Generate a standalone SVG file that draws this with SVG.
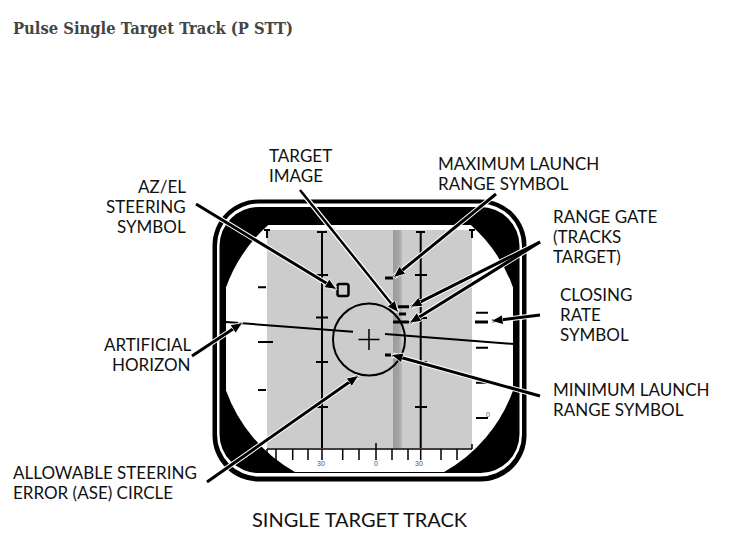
<svg xmlns="http://www.w3.org/2000/svg" width="731" height="548" viewBox="0 0 731 548">
<style>
text{font-family:"Lato","Noto Sans",sans-serif;font-size:17px;fill:#111}
.t{font-family:"DejaVu Serif","Liberation Serif",serif;font-weight:bold;font-size:16px;fill:#444}
.cap{font-size:20px}
.s{font-family:"Liberation Sans",sans-serif;font-size:7px;fill:#555;text-anchor:middle}
.k{stroke:#000;fill:none}
.halo{stroke:#fff;stroke-width:5;fill:none}
.ld{stroke:#000;stroke-width:3;fill:none;marker-end:url(#a)}
</style>
<defs>
<marker id="a" markerUnits="userSpaceOnUse" markerWidth="13" markerHeight="11" refX="11" refY="5" orient="auto"><path d="M0 0L12 5L0 10Z" fill="#000" stroke="#fff" stroke-width=".8"/></marker>
<linearGradient id="band"><stop offset="0" stop-color="#9c9c9c"/><stop offset=".6" stop-color="#a2a2a2"/><stop offset="1" stop-color="#bcbcbc"/></linearGradient>
</defs>
<rect width="731" height="548" fill="#fff"/>
<text class="t" x="13" y="34" textLength="280" lengthAdjust="spacingAndGlyphs">Pulse Single Target Track (P STT)</text>
<g id="display">
<rect x="212.500" y="199.500" width="314" height="282" rx="46" fill="#000"/>
<rect x="217" y="203.500" width="305" height="273" rx="42" fill="#fff"/>
<rect x="219.500" y="207" width="300" height="266" rx="39" fill="#000"/>
<path d="M226 287.400A152.500 152.500 0 0 1 268.200 225H470.800A152.500 152.500 0 0 1 513 287.400V390.600A152.500 152.500 0 0 1 444.100 472H294.900A152.500 152.500 0 0 1 226 390.600Z" fill="#fff"/>
<rect x="267" y="230" width="205" height="218" fill="#ccc"/>
<rect x="393" y="230" width="9" height="218" fill="url(#band)"/>
<g class="k" stroke-width="2">
<path d="M322 232V448M317 232H327M316 275H328M316 317.500H328M316 362H328M316 407H328"/>
<path d="M420.700 232V448M416 232H425M415 275H427M415 318H427M415 362H427M415 407H427"/>
<path d="M267 230V238M264 230H270M472 230V238M469 230H475"/>
<path d="M258 287.300H266M258 342H273M258 390H266"/>
<path d="M476 312.700H488M476 347.700H488M476 382.700H488M476 418H488"/>
<path stroke-width="1.500" d="M267 449H472M267 449V460M276 449V460M292.700 449V460M308 449V460M322 449V460M342.700 449V460M359 449V460M376 443V460M392 449V460M408 449V460M420.700 449V460M441 449V460M457 449V460M472 444V449"/>
<path d="M226 322L353 331.700M385 334L514 344"/>
<circle cx="369" cy="339.500" r="36"/>
<path stroke-width="1.500" d="M369 329V350M358.500 339.500H379.500"/>
<rect x="337.500" y="284" width="11" height="12" rx="2" stroke-width="2.500"/>
</g>
<g class="k" stroke-width="3">
<path d="M385 278H393M398 306.700H409M399 314H406M393 322H409M385 355H391M475 322H488"/>
</g>
<text class="s" x="321" y="466">30</text>
<text class="s" x="376" y="466">0</text>
<text class="s" x="419" y="466">30</text>
<text class="s" x="488" y="417">0</text>
</g>
<g id="connectors">
<path class="halo" d="M196 204L336 289M300 190L398 312M496 194L394 277M540 242L411 306.700M540 242L410 322.700M540 315L492 321M540 396L392 355M207 482L358 376M192 356L242 323"/>
<path class="ld" d="M196 204L336 289"/>
<path class="ld" d="M300 190L398 312" style="stroke-width:2.500"/>
<path class="ld" d="M496 194L394 277"/>
<path class="ld" d="M540 242L411 306.700"/>
<path class="ld" d="M540 242L410 322.700"/>
<path class="ld" d="M540 315L492 321"/>
<path class="ld" d="M540 396L392 355"/>
<path class="ld" d="M207 482L358 376"/>
<path class="ld" d="M192 356L242 323"/>
</g>
<g id="label-azel"><text x="138" y="193">AZ/EL</text><text x="106" y="213">STEERING</text><text x="117" y="233">SYMBOL</text></g>
<g id="label-target"><text x="269" y="162">TARGET</text><text x="269" y="182">IMAGE</text></g>
<g id="label-maxlaunch"><text x="438" y="170">MAXIMUM LAUNCH</text><text x="438" y="190">RANGE SYMBOL</text></g>
<g id="label-gate"><text x="553" y="223">RANGE GATE</text><text x="553" y="243">(TRACKS</text><text x="553" y="263">TARGET)</text></g>
<g id="label-closing"><text x="560" y="301">CLOSING</text><text x="560" y="321">RATE</text><text x="560" y="341">SYMBOL</text></g>
<g id="label-horizon"><text x="104" y="351">ARTIFICIAL</text><text x="112" y="371">HORIZON</text></g>
<g id="label-minlaunch"><text x="553" y="396">MINIMUM LAUNCH</text><text x="553" y="416">RANGE SYMBOL</text></g>
<g id="label-ase"><text x="13" y="479">ALLOWABLE STEERING</text><text x="13" y="499">ERROR (ASE) CIRCLE</text></g>
<text class="cap" x="252" y="527">SINGLE TARGET TRACK</text>
</svg>
